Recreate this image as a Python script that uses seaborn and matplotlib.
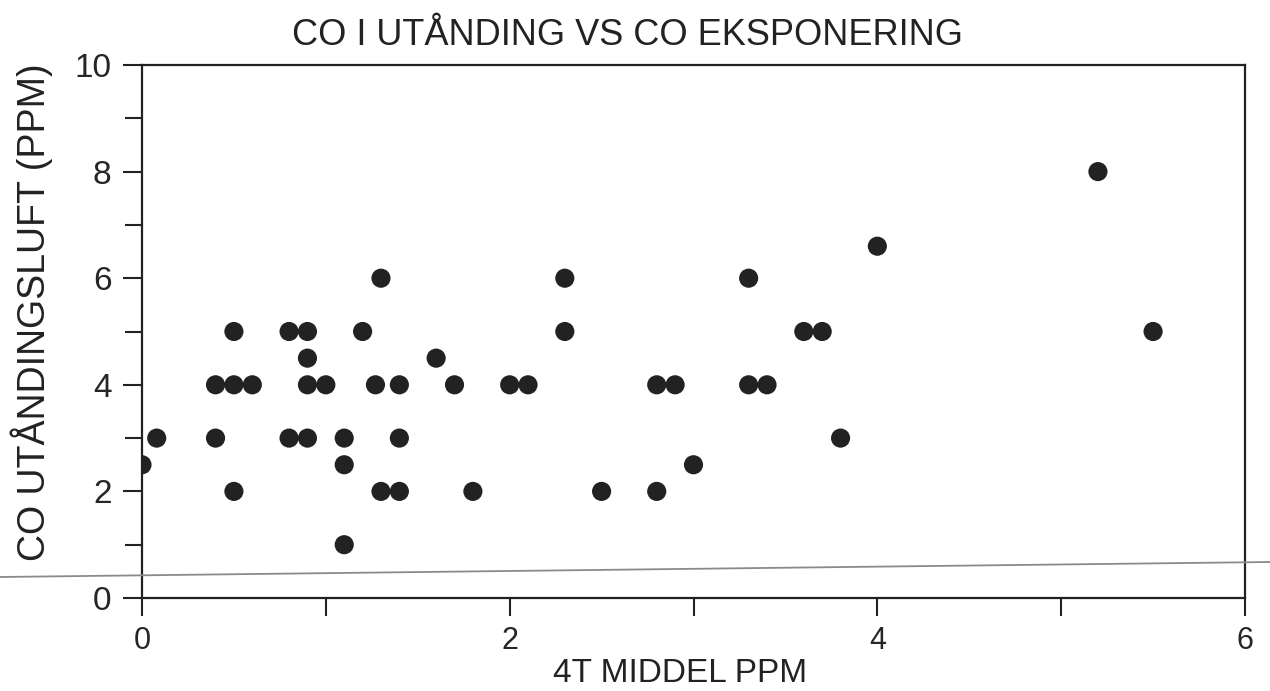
import numpy as np
import pandas as pd
import matplotlib
matplotlib.use("Agg")
import matplotlib.pyplot as plt
from matplotlib.lines import Line2D
from matplotlib.ticker import MultipleLocator
import seaborn as sns

# 4-hour mean exposure (ppm) and CO in exhaled air (ppm)
exposure = [0.0, 0.08, 0.4, 0.4, 0.5, 0.6, 0.5, 0.5, 0.8, 0.9,
            0.9, 0.9, 1.0, 0.8, 0.9, 1.1, 1.1, 1.1, 1.2, 1.3,
            1.27, 1.3, 1.4, 1.4, 1.4, 1.6, 1.7, 2.0, 2.1, 2.3,
            2.3, 1.8, 2.5, 2.8, 3.0, 2.8, 2.9, 3.3, 3.3, 3.4,
            3.6, 3.7, 3.8, 4.0, 5.2, 5.5]
exhaled = [2.5, 3, 3, 4, 4, 4, 5, 2, 5, 5,
           4.5, 4, 4, 3, 3, 3, 2.5, 1, 5, 6,
           4, 2, 4, 3, 2, 4.5, 4, 4, 4, 6,
           5, 2, 2, 2, 2.5, 4, 4, 6, 4, 4,
           5, 5, 3, 6.6, 8, 5]

x_ticks = [0, 1, 2, 3, 4, 5, 6]
x_labels = ["0", "", "2", "", "4", "", "6"]

df = pd.DataFrame({"exposure": exposure, "exhaled": exhaled})

sns.set_style("white")
plt.rcParams['font.family'] = ['Liberation Sans', 'DejaVu Sans']

fig = plt.figure(figsize=(12.7, 6.91), dpi=100)
ax = fig.add_axes([142/1270, 1 - 598/691, 1103/1270, 533/691])

sns.scatterplot(data=df, x="exposure", y="exhaled", ax=ax,
                color="#222222", s=190, edgecolor="none", linewidth=0)

ax.set_xlim(0, 6)
ax.set_ylim(0, 10)
ax.set_xticks(x_ticks)
ax.set_xticklabels(x_labels)
ax.set_yticks([0, 2, 4, 6, 8, 10])
ax.yaxis.set_minor_locator(MultipleLocator(1))

ax.tick_params(axis="x", which="major", direction="out", length=13, width=1.5,
               labelsize=22, pad=7, color="#222222", bottom=True)
ax.tick_params(axis="y", which="major", direction="out", length=14, width=1.5,
               labelsize=24, pad=8, color="#222222", left=True)
ax.tick_params(axis="y", which="minor", direction="out", length=12, width=1.5,
               color="#222222", left=True)

for sp in ax.spines.values():
    sp.set_visible(True)
    sp.set_linewidth(1.6)
    sp.set_color("#222222")

ax.set_xlabel("4T MIDDEL PPM", fontsize=24, color="#222222")
ax.set_ylabel("CO UTÅNDINGSLUFT (PPM)", fontsize=27, color="#222222")
ax.xaxis.set_label_coords(0.488, -0.113)
ax.yaxis.set_label_coords(-0.081, 0.537)
ax.text(0.44, 1.056, "CO I UTÅNDING VS CO EKSPONERING", transform=ax.transAxes,
        ha="center", va="center", fontsize=26, color="#222222")

# faint scanner line running across the page
fig.add_artist(Line2D([0, 1], [1 - 577/691, 1 - 562/691], transform=fig.transFigure,
                      color="#8a8a8a", lw=1.3))

fig.savefig("out.png", dpi=100)
